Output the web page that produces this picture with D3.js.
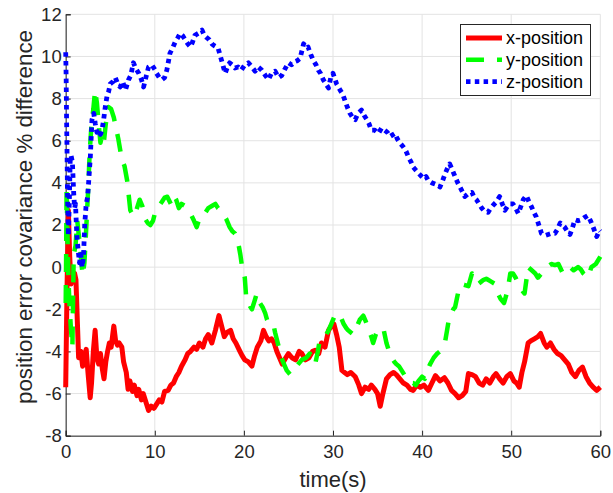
<!DOCTYPE html>
<html>
<head>
<meta charset="utf-8">
<script src="https://cdn.jsdelivr.net/npm/d3@7"></script>
<style>
  html, body { margin: 0; padding: 0; background: #fff; }
  svg { display: block; font-family: "Liberation Sans", Arial, Helvetica, sans-serif; }
</style>
</head>
<body>
<svg id="chart" width="613" height="493"></svg>
<script>
// ---- data -------------------------------------------------------------
const xTicks = [0, 10, 20, 30, 40, 50, 60];
const yTicks = [-8, -6, -4, -2, 0, 2, 4, 6, 8, 10, 12];
const seriesNames = ["x-position", "y-position", "z-position"];

const xPosTime = [0,0.15,0.3,0.45,0.6,0.8,1.0,1.15,1.3,1.45,1.7,1.9,2.1,2.3,2.5,2.75,2.9,3.1,3.3,3.5,3.7,3.9,4.1,4.3,4.5,4.7,4.9,5.1,5.4,5.6,5.8,6.0,6.3,6.5,6.8,7.0,7.2,7.5,7.7,8.0,8.2,8.5,8.7,9.0,9.3,9.6,9.9,10.2,10.5,10.8,11.1,11.5,11.8,12.1,12.4,12.7,13.0,13.4,13.7,14.0,14.4,14.7,15.0,15.4,15.7,16.0,16.4,16.8,17.2,17.5,17.8,18.1,18.5,18.8,19.1,19.5,19.8,20.1,20.5,20.9,21.2,21.5,21.9,22.2,22.5,22.8,23.1,23.4,23.7,24.0,24.3,24.7,25.0,25.4,25.8,26.2,26.5,26.9,27.3,27.7,28.0,28.4,28.7,29.1,29.5,29.8,30.1,30.4,30.7,31.0,31.3,31.6,32.0,32.5,32.9,33.2,33.6,34.0,34.3,34.7,35.0,35.3,35.6,36.0,36.4,36.8,37.1,37.5,37.9,38.3,38.7,39.0,39.4,39.8,40.2,40.7,41.1,41.5,42.0,42.5,42.9,43.3,43.7,44.1,44.5,44.9,45.2,45.6,46.0,46.4,46.8,47.2,47.6,48.0,48.3,48.7,49.1,49.5,49.9,50.3,50.6,50.9,51.2,51.5,51.9,52.2,52.6,53.0,53.3,53.7,54.0,54.4,54.8,55.2,55.6,56.0,56.4,56.8,57.2,57.6,58.0,58.4,58.8,59.2,59.6,60.0];
const xPosVals = [-5.7,-1.0,2.7,0.5,-0.8,-0.4,-0.3,-0.6,-2.5,-4.3,-4.0,-4.7,-4.2,-3.9,-5.0,-6.2,-5.5,-4.0,-3.0,-4.3,-4.6,-4.1,-4.8,-5.3,-4.5,-4.0,-3.6,-3.8,-2.8,-3.5,-3.7,-3.6,-3.8,-4.5,-5.0,-5.8,-5.4,-5.9,-5.6,-6.1,-5.8,-6.3,-6.0,-6.4,-6.8,-6.6,-6.7,-6.5,-6.3,-6.4,-5.9,-5.85,-5.6,-5.5,-5.2,-5.0,-4.7,-4.4,-4.1,-4.0,-3.8,-3.9,-3.6,-3.8,-3.4,-3.2,-3.6,-3.0,-2.3,-2.8,-3.3,-3.1,-3.0,-3.4,-3.6,-3.95,-4.2,-4.4,-4.5,-4.7,-4.2,-3.8,-3.5,-3.0,-3.3,-3.5,-3.4,-3.6,-4.0,-4.3,-4.6,-4.3,-4.1,-4.3,-4.4,-4.0,-4.1,-4.4,-4.3,-4.0,-3.95,-4.1,-3.6,-3.8,-3.0,-2.8,-2.7,-3.2,-3.8,-4.9,-5.0,-5.1,-5.0,-5.2,-5.6,-6.0,-5.7,-5.8,-5.6,-5.8,-6.0,-6.6,-6.0,-5.3,-5.1,-5.0,-5.1,-5.3,-5.5,-5.6,-5.8,-5.85,-5.6,-5.7,-5.6,-5.85,-5.5,-5.15,-5.4,-5.25,-5.5,-5.85,-6.0,-6.2,-6.1,-5.9,-5.05,-5.1,-5.2,-5.5,-5.6,-5.3,-5.5,-5.2,-5.05,-5.3,-5.5,-5.2,-5.05,-5.4,-5.5,-5.7,-5.0,-4.5,-3.6,-3.5,-3.4,-3.3,-3.15,-3.6,-3.8,-3.6,-3.9,-4.1,-4.2,-4.4,-4.6,-5.0,-5.2,-4.9,-4.75,-5.2,-5.5,-5.7,-5.85,-5.7];

const yPosTime = [0,0.05,0.1,0.2,0.3,0.45,0.6,0.75,0.9,1.1,1.3,1.5,1.7,1.9,2.1,2.3,2.5,2.7,2.9,3.1,3.3,3.5,3.7,3.9,4.1,4.3,4.5,4.8,5.1,5.4,5.7,5.9,6.1,6.3,6.6,6.9,7.1,7.25,7.5,7.7,8.0,8.3,8.6,8.9,9.2,9.5,9.8,10.1,10.4,10.8,11.1,11.4,11.8,12.1,12.4,12.7,13.0,13.4,13.7,14.0,14.4,14.7,15.0,15.3,15.7,16.0,16.4,16.8,17.1,17.4,17.7,18.0,18.4,18.7,19.0,19.3,19.6,19.8,20.1,20.3,20.6,20.9,21.2,21.45,21.8,22.1,22.4,22.6,22.9,23.3,23.5,23.8,24.0,24.2,24.5,24.8,25.2,25.5,25.7,26.1,26.5,27.0,27.4,27.7,28.0,28.3,28.5,28.8,29.1,29.5,29.8,30.2,30.6,30.9,31.2,31.5,31.7,32.0,32.3,32.7,33.0,33.4,33.7,34.0,34.3,34.5,34.8,35.1,35.4,35.7,36.0,36.3,36.6,36.9,37.1,37.4,37.7,38.0,38.4,38.7,39.0,39.3,39.6,40.0,40.3,40.6,40.9,41.3,41.7,42.0,42.4,42.6,42.8,43.0,43.3,43.5,43.7,43.9,44.1,44.4,44.8,45.2,45.6,45.9,46.3,46.6,46.9,47.2,47.4,47.8,48.2,48.5,48.8,49.2,49.6,49.9,50.2,50.5,50.8,51.2,51.5,51.9,52.3,52.7,53.0,53.4,53.7,54.0,54.5,54.9,55.3,55.8,56.2,56.6,57.0,57.5,57.8,58.1,58.6,59.0,59.5,60.0];
const yPosVals = [-1.7,0.5,3.8,1.5,-0.5,-2.0,-3.0,-3.8,0.6,1.0,2.2,1.4,0.5,-0.4,0.2,1.8,3.5,5.5,6.8,7.5,8.4,7.8,6.8,5.9,6.3,6.0,6.8,7.6,7.5,7.1,6.5,6.1,5.6,5.1,4.8,4.1,3.3,2.7,2.5,2.4,2.8,3.2,2.9,2.3,2.1,2.0,2.2,2.7,2.86,3.1,3.3,3.34,3.0,3.4,3.2,2.8,3.0,2.9,2.7,2.55,2.2,1.9,2.3,2.55,2.6,2.8,2.9,3.0,2.8,2.7,2.5,2.3,1.9,1.7,1.6,1.3,0.6,0.0,-0.5,-1.7,-1.8,-2.0,-1.6,-1.25,-1.7,-1.9,-2.2,-2.5,-2.7,-2.7,-3.1,-3.6,-3.95,-4.3,-4.6,-4.9,-5.1,-4.9,-4.8,-4.6,-4.4,-4.3,-4.1,-4.4,-4.6,-4.0,-3.5,-3.4,-3.3,-3.0,-2.7,-2.3,-2.2,-2.4,-2.7,-2.9,-3.0,-3.1,-3.2,-2.8,-2.5,-2.3,-2.6,-3.0,-3.3,-3.6,-3.2,-2.9,-2.9,-3.0,-3.6,-4.0,-4.3,-4.5,-4.6,-4.7,-4.9,-5.1,-5.4,-5.5,-5.5,-5.6,-5.4,-5.2,-5.3,-4.9,-4.6,-4.3,-4.1,-4.0,-3.8,-3.5,-3.0,-2.5,-2.2,-2.0,-1.9,-1.5,-1.1,-0.8,-0.85,-0.9,-0.3,-0.5,-0.8,-0.7,-0.6,-0.55,-0.6,-0.7,-0.8,-1.25,-1.5,-1.7,-1.1,-0.3,-0.3,-0.5,-0.8,-1.1,-1.25,0.0,-0.15,-0.3,-0.5,-0.3,-0.1,0.0,0.15,0.1,0.15,-0.3,-0.1,0.0,-0.15,0.0,-0.1,-0.3,-0.5,0.0,0.15,0.5];

const zPosTime = [0,0.05,0.1,0.15,0.2,0.3,0.4,0.5,0.6,0.75,0.9,1.0,1.1,1.25,1.4,1.55,1.7,1.85,2.0,2.13,2.3,2.45,2.57,2.76,2.95,3.15,3.32,3.5,3.7,3.9,4.07,4.26,4.44,4.63,4.8,5.0,5.3,5.56,5.85,6.1,6.4,6.7,7.06,7.3,7.6,7.9,8.2,8.5,8.74,9.0,9.3,9.67,10.05,10.2,10.5,10.8,11.1,11.35,11.7,12.0,12.3,12.6,12.85,13.1,13.4,13.7,14.0,14.25,14.5,14.9,15.3,15.55,15.8,16.1,16.4,16.7,17.1,17.3,17.5,17.7,17.9,18.15,18.4,18.7,19.0,19.35,19.7,20.1,20.5,20.9,21.26,21.6,22.0,22.4,22.76,23.1,23.5,23.9,24.25,24.6,25.0,25.35,25.7,26.0,26.3,26.7,27.0,27.2,27.5,27.8,28.1,28.35,28.6,28.9,29.2,29.5,29.75,30.0,30.4,30.8,31.1,31.35,31.6,31.9,32.2,32.5,32.8,33.2,33.5,33.8,34.05,34.3,34.7,35.1,35.45,35.8,36.1,36.4,36.96,37.2,37.5,37.9,38.2,38.5,38.75,39.0,39.3,39.6,39.95,40.2,40.45,40.7,41.1,41.45,41.75,42.0,42.3,42.6,42.85,43.1,43.4,43.7,44.0,44.25,44.5,44.8,45.2,45.6,45.85,46.1,46.4,46.7,47.0,47.4,47.7,48.0,48.35,48.7,49.0,49.3,49.6,49.9,50.2,50.5,50.8,51.1,51.35,51.7,52.0,52.3,52.55,52.8,53.1,53.4,53.8,54.15,54.5,54.9,55.2,55.5,55.75,56.0,56.3,56.6,56.9,57.15,57.5,57.9,58.2,58.6,58.9,59.2,59.6,59.9,60.0];
const zPosVals = [10.2,9.0,7.0,5.5,3.5,1.5,3.0,5.0,5.3,5.0,3.5,2.8,3.0,1.5,0.8,0.2,0.6,0.0,0.5,2.0,3.0,3.3,4.0,5.2,7.0,7.3,6.8,6.4,6.5,6.3,6.5,7.0,7.6,8.1,8.3,8.7,8.8,9.0,8.7,8.55,8.8,8.4,8.9,9.1,9.7,9.4,9.2,8.9,8.55,9.0,9.5,9.6,9.35,9.2,9.0,8.9,9.0,9.35,10.15,10.4,10.7,10.9,11.1,11.0,10.8,10.6,10.45,10.7,11.0,11.1,11.25,11.0,10.9,10.8,10.6,10.5,10.4,10.1,9.8,9.5,9.2,9.5,9.7,9.6,9.45,9.5,9.35,9.6,9.7,9.5,9.3,9.5,9.35,9.1,8.9,9.2,9.3,9.0,9.1,9.4,9.7,9.6,9.75,9.8,9.9,10.6,10.4,10.45,10.1,9.8,9.6,9.35,9.2,8.9,8.7,8.5,9.0,9.2,8.7,8.4,8.2,7.9,7.6,7.3,7.1,7.0,7.3,7.45,7.2,7.0,6.8,6.5,6.5,6.35,6.6,6.5,6.4,6.2,6.35,6.1,5.9,5.7,5.5,5.2,5.0,4.75,4.6,4.45,4.3,4.2,4.3,4.1,4.0,3.95,3.9,3.8,4.1,4.45,4.7,4.9,4.6,4.3,4.0,3.8,3.6,3.35,3.5,3.55,3.3,3.2,3.0,2.8,2.65,2.6,2.8,2.95,3.1,3.35,3.0,2.7,2.9,3.0,3.0,2.8,2.55,2.9,3.2,3.4,3.1,2.85,2.6,2.4,2.0,1.6,1.5,1.55,1.6,1.6,1.8,2.1,2.0,1.9,1.7,1.55,1.9,2.25,2.2,2.25,2.35,2.45,2.2,1.9,1.45,1.75,1.7];

// ---- layout -----------------------------------------------------------
const svg = d3.select("#chart");
const plot = { left: 65.7, right: 600.3, top: 14.3, bottom: 435.7 };
const axisColor = "#262626";
const gridColor = "#e3e3e3";

const x = d3.scaleLinear().domain([0, 60]).range([plot.left, plot.right]);
const y = d3.scaleLinear().domain([-8, 12]).range([plot.bottom, plot.top]);

// grid lines
const grid = svg.append("g").attr("class", "grid");
grid.selectAll("line.gx").data(xTicks).join("line").attr("class", "gx")
  .attr("x1", d => x(d)).attr("x2", d => x(d))
  .attr("y1", plot.top).attr("y2", plot.bottom)
  .attr("stroke", gridColor).attr("stroke-width", 1);
grid.selectAll("line.gy").data(yTicks).join("line").attr("class", "gy")
  .attr("x1", plot.left).attr("x2", plot.right)
  .attr("y1", d => y(d)).attr("y2", d => y(d))
  .attr("stroke", gridColor).attr("stroke-width", 1);

// axes with inward ticks; labels use a plain hyphen for negatives
const plainNumber = d => String(d);
const xAxis = d3.axisBottom(x).tickValues(xTicks).tickSize(-5).tickPadding(9).tickFormat(plainNumber);
const yAxis = d3.axisLeft(y).tickValues(yTicks).tickSize(-5).tickPadding(4).tickFormat(plainNumber);

const gx = svg.append("g").attr("transform", `translate(0,${plot.bottom})`).call(xAxis);
const gy = svg.append("g").attr("transform", `translate(${plot.left},0)`).call(yAxis);
[gx, gy].forEach(g => {
  g.select(".domain").attr("stroke", axisColor).attr("stroke-width", 1);
  g.selectAll(".tick line").attr("stroke", axisColor).attr("stroke-width", 1);
  g.selectAll(".tick text").attr("fill", axisColor)
    .style("font-size", "18.5px").style("font-family", "Liberation Sans, Arial, sans-serif");
});
gx.selectAll(".tick text").attr("dy", "0.71em");

// axis labels
svg.append("text")
  .attr("x", (plot.left + plot.right) / 2).attr("y", 487)
  .attr("text-anchor", "middle").attr("fill", axisColor)
  .style("font-size", "22px").text("time(s)");
svg.append("text")
  .attr("transform", `translate(32,217) rotate(-90)`)
  .attr("text-anchor", "middle").attr("fill", axisColor)
  .style("font-size", "22.3px").text("position error covariance % difference");

// series
const styles = [
  { color: "#ff0000", dash: null, width: 5 },
  { color: "#00ff00", dash: "18,13", width: 4.5 },
  { color: "#0000ff", dash: "4.5,4.3", width: 4.8 }
];
const series = [
  { name: seriesNames[0], t: xPosTime, v: xPosVals },
  { name: seriesNames[1], t: yPosTime, v: yPosVals },
  { name: seriesNames[2], t: zPosTime, v: zPosVals }
];
const line = d3.line().x(d => x(d[0])).y(d => y(d[1]));

series.forEach((s, i) => {
  const pts = s.t.map((t, k) => [t, s.v[k]]);
  svg.append("path")
    .datum(pts)
    .attr("d", line)
    .attr("fill", "none")
    .attr("stroke", styles[i].color)
    .attr("stroke-width", styles[i].width)
    .attr("stroke-linejoin", "round")
    .attr("stroke-dasharray", styles[i].dash);
});

// legend
const legend = svg.append("g");
legend.append("rect")
  .attr("x", 460.5).attr("y", 24.5).attr("width", 130).attr("height", 71)
  .attr("fill", "#fff").attr("stroke", axisColor).attr("stroke-width", 1);
series.forEach((s, i) => {
  const ly = 38 + i * 21.8;
  legend.append("line")
    .attr("x1", 466).attr("x2", 502).attr("y1", ly).attr("y2", ly)
    .attr("stroke", styles[i].color).attr("stroke-width", styles[i].width)
    .attr("stroke-dasharray", styles[i].dash);
  legend.append("text")
    .attr("x", 506).attr("y", ly).attr("dy", "0.35em")
    .attr("fill", "#000").style("font-size", "18px").text(s.name);
});
</script>
</body>
</html>
